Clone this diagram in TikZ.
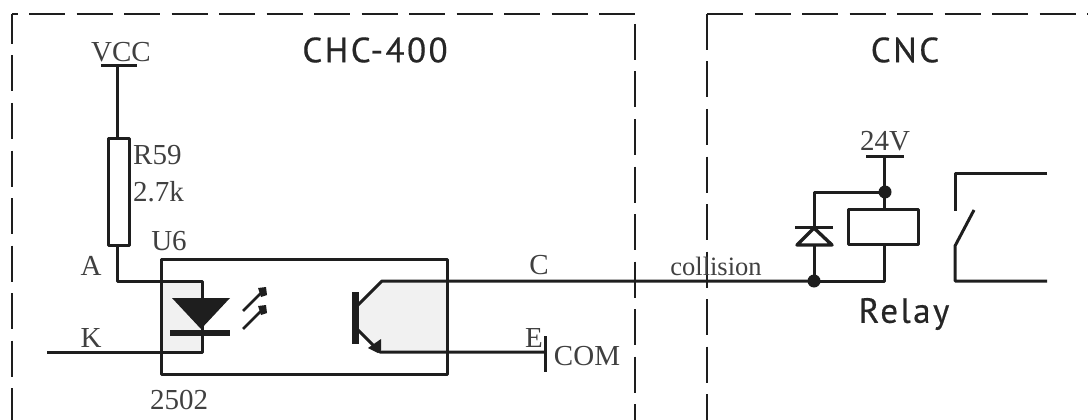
\documentclass[tikz,border=0pt]{standalone}
\usepackage{fontspec}
\setmainfont{Liberation Serif}
\newfontfamily\titlefont[LetterSpace=7,FakeBold=0.5]{PT Sans}
\usetikzlibrary{calc}
\definecolor{wirecol}{HTML}{1E1E1E}
\definecolor{shadecol}{HTML}{F1F1F1}
\tikzset{
  wire/.style={line width=3pt,draw=wirecol},
  border/.style={line width=2.6pt,draw=wirecol,dash pattern=on 36pt off 11.5pt},
  divider/.style={line width=1.9pt,draw=wirecol,dash pattern=on 36pt off 11.5pt},
  serif/.style={font=\fontsize{29}{29}\selectfont,text=black!75,inner sep=0pt},
  title/.style={font=\titlefont\fontsize{35}{35}\selectfont,text=black!85,inner sep=0pt},
  joint/.style={circle,fill=wirecol,inner sep=0pt,minimum size=13pt},
}
\begin{document}
\begin{tikzpicture}[x=1pt,y=-1pt,>=stealth,line join=round,line cap=butt]
	\useasboundingbox (0,0) rectangle (1088,420);
	% dashed frames
	\coordinate (fa) at (12,420);
	\coordinate (fb) at (12,14);
	\coordinate (fc) at (635,14);
	\coordinate (fd) at (635,420);
	\coordinate (ga) at (707,420);
	\coordinate (gb) at (707,14);
	\coordinate (gc) at (1088,14);
	\draw[border,dash phase=6pt] (fb) -- (fa);
	\draw[border,dash phase=30.5pt] (fb) -- (fc);
	\draw[divider,dash phase=37.5pt] (fc) -- (fd);
	\draw[divider] (gb) -- (ga);
	\draw[border] (gb) -- (gc);
	\node[title] (chc) at (375,50) {CHC-400};
	\node[title] (cnc) at (905,50) {CNC};
	% shaded parts of the coupler
	\fill[shadecol] (161,281) rectangle (202,352);
	\fill[shadecol] (382,281) -- (447,281) -- (447,352) -- (380,352) -- (358,330) -- (358,305) -- cycle;
	% supply and resistor
	\node[serif] (vcc) at (121,52) {VCC};
	\coordinate (vl) at (101,66);
	\coordinate (vr) at (137,66);
	\coordinate (vm) at (117,66);
	\node[draw=wirecol,line width=3pt,minimum width=21pt,minimum height=107pt,inner sep=0pt] (r59) at (118.5,191.5) {};
	\draw[wire] (vl) -- (vr);
	\draw[wire] (vm) -- (vm|-r59.north);
	\node[serif,anchor=west] (rname) at (133,155) {R59};
	\node[serif,anchor=west] (rval) at (133,192) {2.7k};
	\node[serif] (ua) at (91,266) {A};
	\node[serif] (uk) at (91,338) {K};
	\node[serif] (uname) at (169,241) {U6};
	\node[serif] (upart) at (179,400) {2502};
	% coupler
	\node[draw=wirecol,line width=3pt,minimum width=286pt,minimum height=115pt,inner sep=0pt] (u6) at (304,316.5) {};
	\coordinate (an) at (202,281);
	\coordinate (ca) at (202,352);
	\coordinate (kin) at (47,352);
	\draw[wire] (vm|-r59.south) -- (vm|-an) -- (an) -- (ca) -- (kin);
	\fill[wirecol] (172,298) -- (230,298) -- (201,329) -- cycle;
	\fill[wirecol] (170,330) rectangle (230,336);
	% light arrows
	\foreach \ly in {0,18}{
		\draw[line width=2.6pt,draw=wirecol] (243,{311+\ly}) -- (262,{292+\ly});
		\fill[wirecol] (258,{288+\ly}) -- (266,{287+\ly}) -- (267,{295+\ly}) -- (261,{297+\ly}) -- cycle;
	}
	% transistor
	\fill[wirecol] (352,292) rectangle (359,344);
	\coordinate (col) at (382,281);
	\coordinate (emi) at (380,352);
	\coordinate (cw) at (814,281);
	\coordinate (com) at (545,352);
	\draw[wire] (358,305) -- (col) -- (cw);
	\draw[wire] (358,330) -- (emi) -- (com);
	\fill[wirecol] (381,350) -- (381,339) -- (368,348) -- (378,353) -- cycle;
	\coordinate (cmt) at (545,336);
	\coordinate (cmb) at (545,372);
	\draw[wire] (cmt) -- (cmb);
	\node[serif] (nc) at (539,265) {C};
	\node[serif] (ne) at (534,338) {E};
	\node[serif] (ncom) at (587,356) {COM};
	\node[serif,font=\fontsize{26.5}{26.5}\selectfont] (coll) at (716,266) {collision};
	% relay coil
	\node[serif] (v24) at (885,141) {24V};
	\coordinate (pl) at (866,156);
	\coordinate (pr) at (904,156);
	\coordinate (pm) at (884,156);
	\draw[wire] (pl) -- (pr);
	\node[draw=wirecol,line width=3pt,minimum width=70pt,minimum height=35pt,inner sep=0pt] (coil) at (883,226.5) {};
	\node[joint] (dt) at (885,192) {};
	\node[joint] (db) at (814,281) {};
	\draw[wire] (pm) -- (pm|-coil.north);
	\draw[wire] (dt.center) -| (db.center);
	\draw[wire] (pm|-coil.south) -- (pm|-cw) -- (db.center);
	% flyback diode
	\coordinate (bl) at (795,227);
	\coordinate (br) at (833,227);
	\draw[wire] (bl) -- (br);
	\draw[wire,line width=3.4pt,fill=white] (814,228) -- (832,245) -- (797,245) -- cycle;
	% contact
	\coordinate (sa) at (1047,173);
	\coordinate (sb) at (955,173);
	\coordinate (sc) at (955,211);
	\coordinate (sd) at (1047,281);
	\coordinate (se) at (955,281);
	\coordinate (sf) at (955,246);
	\coordinate (sg) at (974,210);
	\draw[wire] (sa) -- (sb) -- (sc);
	\draw[wire] (sd) -- (se) -- (sf) -- (sg);
	\node[title] (relay) at (904,314) {Relay};
\end{tikzpicture}
\end{document}
